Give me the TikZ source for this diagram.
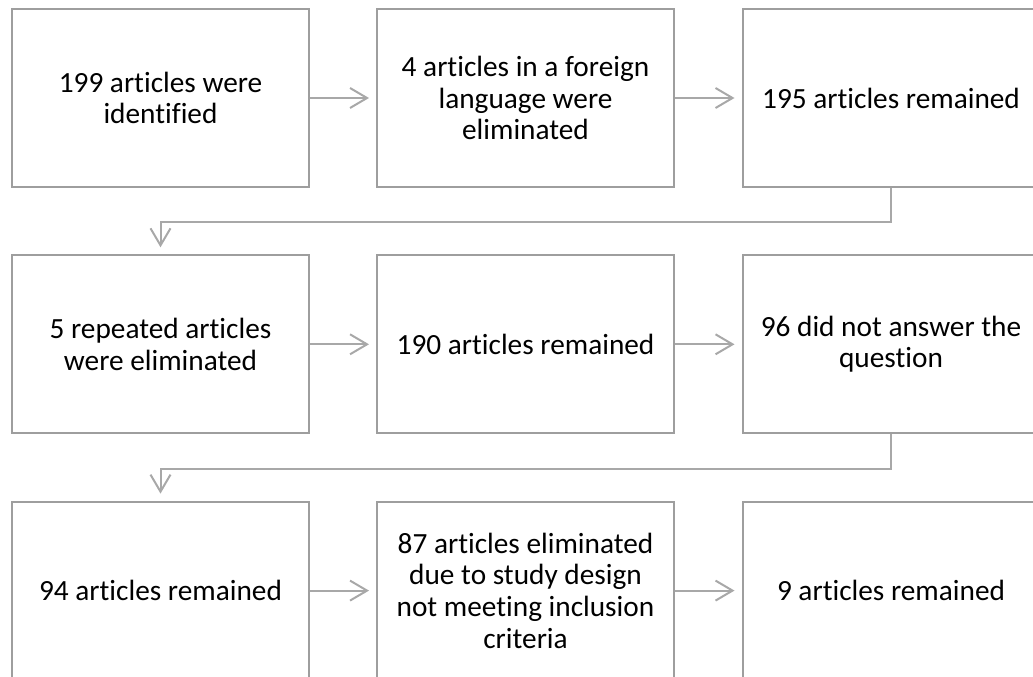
\documentclass[tikz,border=0pt]{standalone}
\usepackage{fontspec}
\setmainfont{Carlito}[Ligatures={NoCommon}]
\usetikzlibrary{arrows.meta}
\definecolor{boxgray}{RGB}{158,158,158}
\definecolor{arrgray}{RGB}{168,168,168}
\begin{document}
\begin{tikzpicture}[x=1pt,y=-1pt,
  stepbox/.style={draw=boxgray, line width=2pt, minimum width=297pt, minimum height=178pt,
    inner sep=0pt, align=center, font=\fontsize{29.3}{31.6}\selectfont, text=black},
  flow/.style={draw=arrgray, line width=2pt,
    -{Straight Barb[length=17pt,width=20pt,line width=2pt]}, shorten >=7pt}]
\useasboundingbox (0,0) rectangle (1033,677);
\begin{scope}
\clip (0,0) rectangle (1033,677);
\node[stepbox] (b1) at (160.5,98) {199 articles were\\identified};
\node[stepbox] (b2) at (525.5,98) {4 articles in a foreign\\language were\\eliminated};
\node[stepbox] (b3) at (891,98) {195 articles remained};
\node[stepbox] (b4) at (160.5,344.3) {5 repeated articles\\were eliminated};
\node[stepbox] (b5) at (525.5,344.3) {190 articles remained};
\node[stepbox] (b6) at (891,344.3) {96 did not answer the\\question};
\node[stepbox] (b7) at (160.5,590.6) {94 articles remained};
\node[stepbox] (b8) at (525.5,590.6) {87 articles eliminated\\due to study design\\not meeting inclusion\\criteria};
\node[stepbox] (b9) at (891,590.6) {9 articles remained};
\end{scope}
\draw[flow] (b1.east) -- (b2.west);
\draw[flow] (b2.east) -- (b3.west);
\draw[flow] (b4.east) -- (b5.west);
\draw[flow] (b5.east) -- (b6.west);
\draw[flow] (b7.east) -- (b8.west);
\draw[flow] (b8.east) -- (b9.west);
\draw[flow] (b3.south) -- ++(0,33.6) -| (b4.north);
\draw[flow] (b6.south) -- ++(0,34.5) -| (b7.north);
\end{tikzpicture}
\end{document}
